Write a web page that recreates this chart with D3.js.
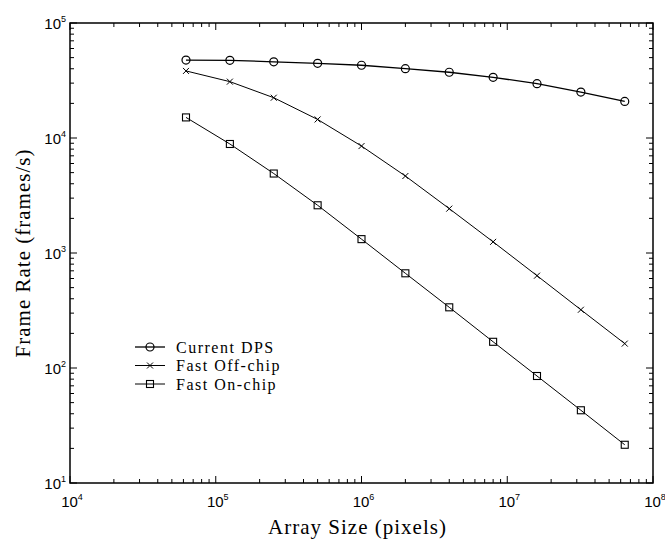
<!DOCTYPE html>
<html>
<head>
<meta charset="utf-8">
<script src="https://cdn.jsdelivr.net/npm/d3@7"></script>
<style>
  body { margin: 0; background: #fff; }
  svg { display: block; }
</style>
</head>
<body>
<svg id="chart" width="665" height="545"></svg>
<script>
// array sizes (pixels), doubling per step
const sizes = [62500, 125000, 250000, 500000, 1e6, 2e6, 4e6, 8e6, 1.6e7, 3.2e7, 6.4e7]
// frame rates (frames/s)
const currentDPS = [47600, 47400, 46000, 44600, 42900, 40100, 37300, 33700, 29700, 25100, 20800]
const fastOffChip = [38300, 30900, 22400, 14500, 8510, 4670, 2430, 1250, 635, 321, 163]
const fastOnChip = [15100, 8870, 4910, 2600, 1320, 666, 337, 169, 85.2, 42.9, 21.5]
const seriesNames = ['Current DPS', 'Fast Off-chip', 'Fast On-chip']
const xExponents = [4, 5, 6, 7, 8]
const yExponents = [1, 2, 3, 4, 5]

const plot = {left: 70, right: 653, top: 23, bottom: 483}
const serif = 'Liberation Serif, Times New Roman, serif'
const sans = 'Liberation Sans, Arial, sans-serif'

const svg = d3.select('#chart')
const x = d3.scaleLog().domain([1e4, 1e8]).range([plot.left, plot.right])
const y = d3.scaleLog().domain([1e1, 1e5]).range([plot.bottom, plot.top])

function drawMarker(g, kind, cx, cy){
    if(kind === 'circle'){
        g.append('circle')
        .attr('cx', cx).attr('cy', cy).attr('r', 4)
        .attr('fill', 'none').attr('stroke', '#000').attr('stroke-width', 1.2)
    }else if(kind === 'cross'){
        g.append('path')
        .attr('d', `M${cx - 3},${cy - 3}L${cx + 3},${cy + 3}M${cx - 3},${cy + 3}L${cx + 3},${cy - 3}`)
        .attr('stroke', '#000').attr('stroke-width', 1)
    }else{
        g.append('rect')
        .attr('x', cx - 3.5).attr('y', cy - 3.5).attr('width', 7).attr('height', 7)
        .attr('fill', 'none').attr('stroke', '#000').attr('stroke-width', 1.1)
    }
}

function drawAxes(g){
    // log ticks on all four sides, pointing inward
    let ticks = []
    for(let e = 4; e < 8; e++){
        for(let m = 1; m < 10; m++) ticks.push({v: m * Math.pow(10, e), major: m === 1})
    }
    ticks.push({v: 1e8, major: true})
    ticks.forEach(t => {
        const len = t.major ? 7 : 4
        const px = x(t.v)
        g.append('line').attr('x1', px).attr('x2', px).attr('y1', plot.bottom).attr('y2', plot.bottom - len)
        .attr('stroke', '#000').attr('stroke-width', 1)
        g.append('line').attr('x1', px).attr('x2', px).attr('y1', plot.top).attr('y2', plot.top + len)
        .attr('stroke', '#000').attr('stroke-width', 1)
    })
    let yt = []
    for(let e = 1; e < 5; e++){
        for(let m = 1; m < 10; m++) yt.push({v: m * Math.pow(10, e), major: m === 1})
    }
    yt.push({v: 1e5, major: true})
    yt.forEach(t => {
        const len = t.major ? 7 : 4
        const py = y(t.v)
        g.append('line').attr('x1', plot.left).attr('x2', plot.left + len).attr('y1', py).attr('y2', py)
        .attr('stroke', '#000').attr('stroke-width', 1)
        g.append('line').attr('x1', plot.right).attr('x2', plot.right - len).attr('y1', py).attr('y2', py)
        .attr('stroke', '#000').attr('stroke-width', 1)
    })

    g.append('rect')
    .attr('x', plot.left).attr('y', plot.top)
    .attr('width', plot.right - plot.left).attr('height', plot.bottom - plot.top)
    .attr('fill', 'none').attr('stroke', '#000').attr('stroke-width', 1.5)

    xExponents.forEach(e => {
        const t = g.append('text')
        .attr('x', x(Math.pow(10, e)) + 2).attr('y', plot.bottom + 24)
        .attr('text-anchor', 'middle')
        .attr('font-family', sans).attr('font-size', '15px')
        t.append('tspan').text('10')
        t.append('tspan').attr('dy', -7).attr('font-size', '9px').text(e)
    })
    yExponents.forEach(e => {
        const t = g.append('text')
        .attr('x', plot.left - 4).attr('y', y(Math.pow(10, e)) + 6)
        .attr('text-anchor', 'end')
        .attr('font-family', sans).attr('font-size', '15px')
        t.append('tspan').text('10')
        t.append('tspan').attr('dy', -7).attr('font-size', '9px').text(e)
    })

    g.append('text')
    .attr('x', (plot.left + plot.right) / 2 - 4).attr('y', 534)
    .attr('text-anchor', 'middle')
    .attr('font-family', serif).attr('font-size', '21px')
    .attr('letter-spacing', '1px')
    .text('Array Size (pixels)')

    g.append('text')
    .attr('transform', `translate(30,${(plot.top + plot.bottom) / 2}) rotate(-90)`)
    .attr('text-anchor', 'middle')
    .attr('font-family', serif).attr('font-size', '21px')
    .attr('letter-spacing', '1px')
    .text('Frame Rate (frames/s)')
}

function drawSeries(g){
    const all = [currentDPS, fastOffChip, fastOnChip]
    const kinds = ['circle', 'cross', 'square']
    const line = d3.line().x(d => x(d[0])).y(d => y(d[1]))
    for(let idx = 0; idx < all.length; idx++){
        const pts = sizes.map((s, i) => [s, all[idx][i]])
        g.append('path')
        .attr('d', line(pts))
        .attr('fill', 'none').attr('stroke', '#000')
        .attr('stroke-width', idx === 0 ? 1.3 : 1)
        pts.forEach(p => drawMarker(g, kinds[idx], x(p[0]), y(p[1])))
    }

    // legend
    const legendX = 135, legendY = 347, rowH = 18.5
    for(let idx = 0; idx < seriesNames.length; idx++){
        const ly = legendY + idx * rowH
        g.append('line')
        .attr('x1', legendX).attr('x2', legendX + 30).attr('y1', ly).attr('y2', ly)
        .attr('stroke', '#000').attr('stroke-width', idx === 0 ? 1.3 : 1)
        drawMarker(g, kinds[idx], legendX + 15, ly)
        g.append('text')
        .attr('x', legendX + 41).attr('y', ly + 5.5)
        .attr('font-family', serif).attr('font-size', '16px')
        .attr('letter-spacing', '1.5px')
        .text(seriesNames[idx])
    }
}

const g = svg.append('g')
drawSeries(g)
drawAxes(g)
</script>
</body>
</html>
